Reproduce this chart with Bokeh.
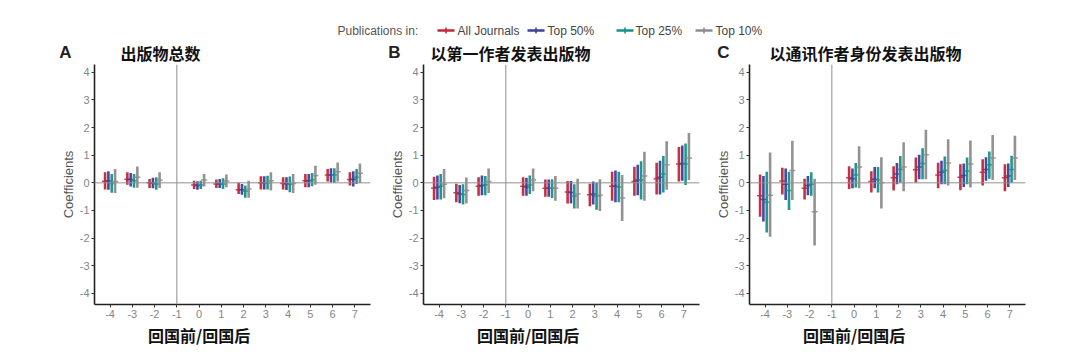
from bokeh.plotting import figure
from bokeh.layouts import column, row
from bokeh.models import (Range1d, Span, Label, FixedTicker, ColumnDataSource,
                          PrintfTickFormatter)
from bokeh.transform import dodge
from bokeh.embed import file_html
from bokeh.resources import INLINE

# ---------------- data ----------------
periods = [-4, -3, -2, 0, 1, 2, 3, 4, 5, 6, 7]
x_ticks = [-4, -3, -2, -1, 0, 1, 2, 3, 4, 5, 6, 7]
y_ticks = [-4, -3, -2, -1, 0, 1, 2, 3, 4]
series_names = ["All Journals", "Top 50%", "Top 25%", "Top 10%"]
series_colors = ["#C42539", "#3D3F98", "#16918A", "#8C8C8C"]
series_offsets = [-0.225, -0.075, 0.075, 0.225]

panel_letters = ["A", "B", "C"]
panel_titles = ["出版物总数", "以第一作者发表出版物", "以通讯作者身份发表出版物"]
x_title = "回国前/回国后"
y_title = "Coefficients"
legend_title = "Publications in:"

# Panel A
a_all_est = [0.06, 0.13, 0.00, -0.08, -0.04, -0.25, 0.00, -0.02, 0.08, 0.28, 0.12]
a_all_lo = [-0.24, -0.07, -0.19, -0.22, -0.19, -0.40, -0.24, -0.24, -0.16, 0.05, -0.10]
a_all_hi = [0.38, 0.38, 0.14, 0.08, 0.12, 0.00, 0.24, 0.20, 0.32, 0.50, 0.38]
a_50_est = [0.07, 0.12, -0.01, -0.10, -0.03, -0.25, 0.00, -0.03, 0.08, 0.28, 0.13]
a_50_lo = [-0.25, -0.13, -0.20, -0.25, -0.19, -0.43, -0.24, -0.26, -0.16, 0.02, -0.13]
a_50_hi = [0.42, 0.36, 0.18, 0.06, 0.14, -0.04, 0.24, 0.20, 0.32, 0.53, 0.42]
a_25_est = [-0.02, 0.08, -0.04, -0.08, -0.04, -0.30, 0.00, -0.05, 0.10, 0.28, 0.20]
a_25_lo = [-0.36, -0.18, -0.25, -0.22, -0.22, -0.54, -0.24, -0.34, -0.12, 0.00, -0.04]
a_25_hi = [0.32, 0.32, 0.20, 0.08, 0.17, -0.10, 0.26, 0.23, 0.36, 0.53, 0.50]
a_10_est = [0.05, 0.20, 0.10, 0.10, 0.07, -0.22, 0.08, -0.02, 0.27, 0.40, 0.35]
a_10_lo = [-0.37, -0.18, -0.19, -0.13, -0.16, -0.54, -0.28, -0.37, -0.07, 0.05, -0.01]
a_10_hi = [0.50, 0.59, 0.38, 0.32, 0.30, 0.08, 0.38, 0.32, 0.62, 0.74, 0.70]

# Panel B
b_all_est = [-0.20, -0.36, -0.12, -0.12, -0.20, -0.33, -0.43, -0.12, 0.05, 0.15, 0.68]
b_all_lo = [-0.62, -0.70, -0.47, -0.47, -0.50, -0.75, -0.85, -0.65, -0.47, -0.42, 0.05]
b_all_hi = [0.22, -0.03, 0.20, 0.20, 0.12, 0.07, -0.03, 0.40, 0.58, 0.73, 1.30]
b_50_est = [-0.16, -0.40, -0.10, -0.15, -0.20, -0.35, -0.40, -0.12, 0.10, 0.20, 0.70]
b_50_lo = [-0.60, -0.74, -0.45, -0.47, -0.50, -0.75, -0.78, -0.70, -0.45, -0.42, 0.08]
b_50_hi = [0.27, -0.08, 0.27, 0.18, 0.12, 0.07, 0.05, 0.45, 0.65, 0.80, 1.35]
b_25_est = [-0.12, -0.42, -0.07, -0.08, -0.20, -0.48, -0.48, -0.15, 0.10, 0.32, 0.68]
b_25_lo = [-0.60, -0.78, -0.45, -0.40, -0.55, -0.93, -0.97, -0.70, -0.60, -0.35, -0.08]
b_25_hi = [0.32, -0.05, 0.25, 0.27, 0.13, -0.05, 0.00, 0.40, 0.78, 0.97, 1.42]
b_10_est = [-0.05, -0.28, 0.05, 0.10, -0.20, -0.40, -0.45, -0.55, 0.25, 0.65, 0.90]
b_10_lo = [-0.56, -0.75, -0.37, -0.30, -0.65, -0.93, -1.02, -1.38, -0.65, -0.25, 0.10]
b_10_hi = [0.50, 0.19, 0.52, 0.52, 0.25, 0.15, 0.13, 0.28, 1.12, 1.50, 1.80]

# Panel C
c_all_est = [-0.47, 0.07, -0.20, 0.18, 0.05, 0.18, 0.47, 0.28, 0.20, 0.38, 0.18]
c_all_lo = [-1.23, -0.42, -0.60, -0.22, -0.35, -0.28, 0.00, -0.20, -0.27, -0.10, -0.30]
c_all_hi = [0.30, 0.55, 0.15, 0.60, 0.42, 0.60, 0.92, 0.73, 0.67, 0.85, 0.67]
c_50_est = [-0.60, -0.05, -0.10, 0.15, 0.13, 0.32, 0.57, 0.38, 0.27, 0.48, 0.25]
c_50_lo = [-1.40, -0.62, -0.45, -0.20, -0.20, -0.05, 0.13, -0.05, -0.15, 0.08, -0.15]
c_50_hi = [0.25, 0.52, 0.25, 0.52, 0.57, 0.72, 1.02, 0.80, 0.70, 0.93, 0.70]
c_25_est = [-0.70, -0.28, -0.05, 0.28, 0.10, 0.48, 0.70, 0.45, 0.43, 0.65, 0.48]
c_25_lo = [-1.80, -0.98, -0.47, -0.17, -0.35, 0.00, 0.13, -0.05, -0.05, 0.15, 0.00]
c_25_hi = [0.40, 0.40, 0.38, 0.72, 0.57, 0.97, 1.25, 0.95, 0.92, 1.13, 0.98]
c_10_est = [-0.45, 0.45, -1.05, 0.57, 0.00, 0.57, 1.02, 0.72, 0.68, 0.90, 0.90]
c_10_lo = [-1.95, -0.62, -2.27, -0.20, -0.93, -0.30, 0.13, -0.10, -0.17, 0.10, 0.10]
c_10_hi = [1.10, 1.52, 0.15, 1.32, 0.93, 1.47, 1.92, 1.58, 1.53, 1.73, 1.70]

panels_data = [
    [(a_all_est, a_all_lo, a_all_hi), (a_50_est, a_50_lo, a_50_hi),
     (a_25_est, a_25_lo, a_25_hi), (a_10_est, a_10_lo, a_10_hi)],
    [(b_all_est, b_all_lo, b_all_hi), (b_50_est, b_50_lo, b_50_hi),
     (b_25_est, b_25_lo, b_25_hi), (b_10_est, b_10_lo, b_10_hi)],
    [(c_all_est, c_all_lo, c_all_hi), (c_50_est, c_50_lo, c_50_hi),
     (c_25_est, c_25_lo, c_25_hi), (c_10_est, c_10_lo, c_10_hi)],
]

# ---------------- layout ----------------
SANS = "Liberation Sans"
CJK = "Noto Sans CJK SC"
X_START, X_END = -4.7, 7.7
Y_START, Y_END = -4.4, 4.28
FRAME_W = 276
FRAME_H = 240
HEADER_H = 64
PANEL_BOTTOM = 18
FOOTER_H = 30
left_borders = [94, 48, 45]
right_border = 5


def make_panel(i):
    w = left_borders[i] + FRAME_W + right_border
    p = figure(width=w, height=FRAME_H + PANEL_BOTTOM, output_backend="svg",
               toolbar_location=None,
               x_range=Range1d(X_START, X_END), y_range=Range1d(Y_START, Y_END),
               min_border_left=left_borders[i], min_border_right=right_border,
               min_border_top=0, min_border_bottom=PANEL_BOTTOM)
    p.outline_line_color = None
    p.xgrid.visible = False
    p.ygrid.visible = False

    for ax in (p.xaxis[0], p.yaxis[0]):
        ax.axis_line_color = "#222222"
        ax.axis_line_width = 1.6
        ax.major_tick_line_color = "#333333"
        ax.major_tick_in = 0
        ax.major_tick_out = 3
        ax.minor_tick_line_color = None
        ax.major_label_text_color = "#858585"
        ax.major_label_text_font = SANS
        ax.major_label_text_font_size = "11px"
        ax.major_label_standoff = 2
        ax.formatter = PrintfTickFormatter(format="%d")
    p.xaxis.ticker = FixedTicker(ticks=x_ticks)
    p.yaxis.ticker = FixedTicker(ticks=y_ticks)
    p.yaxis.axis_label = y_title
    p.yaxis.axis_label_text_font = SANS
    p.yaxis.axis_label_text_font_style = "normal"
    p.yaxis.axis_label_text_font_size = "13px"
    p.yaxis.axis_label_text_color = "#555555"
    p.yaxis.axis_label_standoff = 1

    p.add_layout(Span(location=0, dimension="width", line_color="#8f8f8f", line_width=1))
    p.add_layout(Span(location=-1, dimension="height", line_color="#8f8f8f", line_width=1))

    for (est, lo, hi), color, off in zip(panels_data[i], series_colors, series_offsets):
        src = ColumnDataSource(dict(period=periods, est=est, lo=lo, hi=hi))
        xs = dodge("period", off)
        p.segment(x0=xs, y0="lo", x1=xs, y1="hi", source=src,
                  line_color=color, line_width=2.6, line_alpha=0.95)
        p.scatter(x=xs, y="est", source=src, marker="dash", size=6,
                  line_color=color, line_width=1.5, line_alpha=0.85)
    return p


panels = [make_panel(i) for i in range(3)]
total_w = sum(pp.width for pp in panels)

# frame positions in page pixels (for header / footer texts)
frame_lefts = []
acc = 0
for i, pp in enumerate(panels):
    frame_lefts.append(acc + left_borders[i])
    acc += pp.width
px_per_unit = FRAME_W / (X_END - X_START)


def strip(h):
    s = figure(width=total_w, height=h, output_backend="svg", toolbar_location=None,
               x_range=Range1d(0, total_w), y_range=Range1d(0, h),
               min_border=0, min_border_left=0, min_border_right=0,
               min_border_top=0, min_border_bottom=0)
    s.axis.visible = False
    s.xgrid.visible = False
    s.ygrid.visible = False
    s.outline_line_color = None
    return s


# header: legend + panel titles (header strip uses pixel coordinates)
hd = strip(HEADER_H)
LEG_Y = HEADER_H - 30
key_x = [437, 527, 616, 695]
label_x = [457, 547, 635, 715]
KEY_LEN = 17
key_src = ColumnDataSource(dict(
    x0=key_x, x1=[k + KEY_LEN for k in key_x], xm=[k + KEY_LEN / 2 for k in key_x],
    color=series_colors))
hd.segment(x0="x0", y0=LEG_Y, x1="x1", y1=LEG_Y, source=key_src,
           line_color="color", line_width=2.5)
hd.segment(x0="xm", y0=LEG_Y - 3, x1="xm", y1=LEG_Y + 3, source=key_src,
           line_color="color", line_width=1.5)
hd.add_layout(Label(x=337, y=LEG_Y, x_units="screen", y_units="screen",
                    text=legend_title, text_font=SANS, text_font_size="12px",
                    text_color="#555555", text_align="left", text_baseline="middle"))
for lx, name in zip(label_x, series_names):
    hd.add_layout(Label(x=lx, y=LEG_Y, x_units="screen", y_units="screen",
                        text=name, text_font=SANS, text_font_size="12px",
                        text_color="#444444", text_align="left", text_baseline="middle"))

letter_dx = [-29, -29, -26]
title_dx = [26, 7, 20]
TITLE_Y = HEADER_H - 52
for i in range(3):
    fl = frame_lefts[i]
    hd.add_layout(Label(x=fl + letter_dx[i], y=TITLE_Y, x_units="screen", y_units="screen",
                        text=panel_letters[i], text_font=SANS, text_font_style="bold",
                        text_font_size="17px", text_color="#222222",
                        text_align="center", text_baseline="middle"))
    hd.add_layout(Label(x=fl + title_dx[i], y=TITLE_Y, x_units="screen", y_units="screen",
                        text=panel_titles[i], text_font=CJK, text_font_style="bold",
                        text_font_size="16px", text_color="#111111",
                        text_align="left", text_baseline="middle"))

# footer: x-axis titles centred under period 0
ft = strip(FOOTER_H)
for i in range(3):
    cx = frame_lefts[i] + (0 - X_START) * px_per_unit
    ft.add_layout(Label(x=cx, y=FOOTER_H - 12, x_units="screen", y_units="screen",
                        text=x_title, text_font=CJK, text_font_style="bold",
                        text_font_size="16px", text_color="#111111",
                        text_align="center", text_baseline="middle"))

layout = column(hd, row(*panels), ft)
open("out.html", "w").write(file_html(layout, INLINE))
